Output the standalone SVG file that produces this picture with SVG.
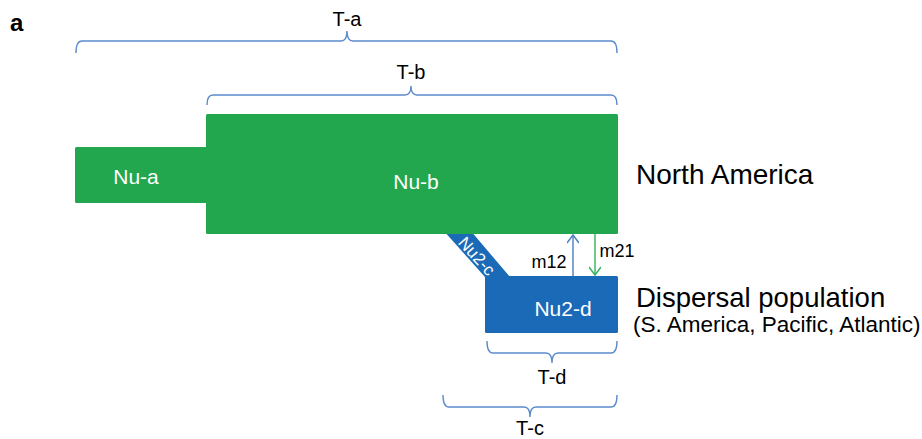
<svg xmlns="http://www.w3.org/2000/svg" width="922" height="439" viewBox="0 0 922 439">
<defs>
<style>
text{font-family:"Liberation Sans",Arial,sans-serif;}
.lbl{fill:#000;font-size:20px;text-anchor:middle;}
.in{fill:#fff;font-size:21px;text-anchor:middle;}
.br{fill:none;stroke:#5b8bcc;stroke-width:1.4;}
.green{fill:#22a74f;}
.blue{fill:#1b6ab7;}
</style>
<marker id="ab" viewBox="0 0 12 12" refX="10" refY="6" markerWidth="12" markerHeight="12" markerUnits="userSpaceOnUse" orient="auto">
<path d="M2,0 L10,6 L2,12" fill="none" stroke="context-stroke" stroke-width="1.4"/>
</marker>
</defs>
<rect width="922" height="439" fill="#fff"/>
<text x="10" y="31" font-size="24" font-weight="bold" fill="#000">a</text>

<g id="brackets" class="br">
<path class="br" d="M76,53 Q76,41 82,41 L341,41 Q347,41 347,31 Q347,41 353,41 L611,41 Q617,41 617,53"/>
<path class="br" d="M207,105 Q207,95 213,95 L405,95 Q411,95 411,86 Q411,95 417,95 L611,95 Q617,95 617,105"/>
<path class="br" d="M487,341 Q487,353 493,353 L546,353 Q552,353 552,363 Q552,353 558,353 L611,353 Q617,353 617,341"/>
<path class="br" d="M443,395 Q443,407 449,407 L524,407 Q530,407 530,417 Q530,407 536,407 L611,407 Q617,407 617,395"/>
</g>
<text class="lbl" x="347" y="26">T-a</text>
<text class="lbl" x="411" y="79">T-b</text>
<text class="lbl" x="552" y="384">T-d</text>
<text class="lbl" x="530" y="435">T-c</text>

<g id="nu2c">
<polygon class="blue" points="443,230 470,230 510,277 485,277"/>
<text class="in" transform="translate(477,256) rotate(48)" y="6" style="font-size:17px">Nu2-c</text>
</g>
<g id="nua">
<rect class="green" x="75" y="147" width="133" height="56" rx="1.5"/>
<text class="in" x="136" y="184">Nu-a</text>
</g>
<g id="nub">
<rect class="green" x="206" y="114" width="412" height="120" rx="1.5"/>
<text class="in" x="416" y="189">Nu-b</text>
</g>
<g id="nu2d">
<rect class="blue" x="485" y="276" width="133" height="57" rx="1.5"/>
<text class="in" x="563" y="316">Nu2-d</text>
</g>

<g id="connectors">
<line x1="573" y1="276" x2="573" y2="235" stroke="#4a7fc1" stroke-width="1.4" marker-end="url(#ab)"/>
<line x1="595" y1="234" x2="595" y2="275" stroke="#33b25a" stroke-width="1.4" marker-end="url(#ab)"/>
</g>
<text x="549" y="268" font-size="18" text-anchor="middle" fill="#000">m12</text>
<text x="617" y="257" font-size="18" text-anchor="middle" fill="#000">m21</text>

<text x="636" y="184" font-size="28" fill="#000">North America</text>
<text x="636" y="307" font-size="27.5" fill="#000">Dispersal population</text>
<text x="633" y="332" font-size="22.5" fill="#000">(S. America, Pacific, Atlantic)</text>
</svg>
